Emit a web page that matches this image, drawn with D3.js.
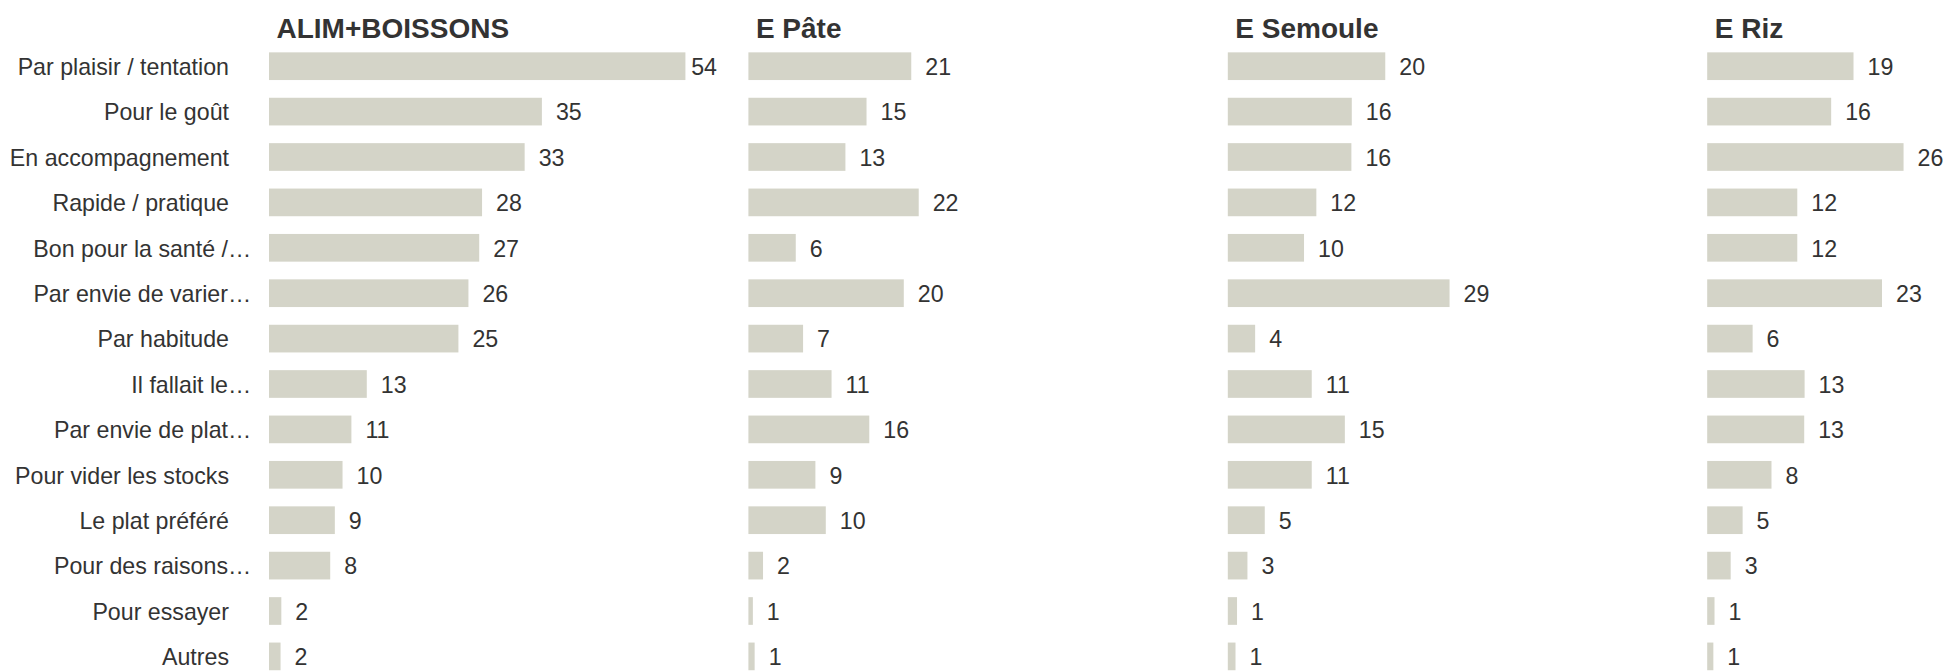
<!DOCTYPE html>
<html>
<head>
<meta charset="utf-8">
<script src="https://cdn.jsdelivr.net/npm/d3@7"></script>
<style>
  html, body { margin: 0; padding: 0; background: #ffffff; }
  svg { display: block; }
  text { font-family: "Liberation Sans", Arial, sans-serif; fill: #333333; }
</style>
</head>
<body>
<svg id="chart" width="1948" height="672"></svg>
<script>
const categories = [
  "Par plaisir / tentation",
  "Pour le goût",
  "En accompagnement",
  "Rapide / pratique",
  "Bon pour la santé /…",
  "Par envie de varier…",
  "Par habitude",
  "Il fallait le…",
  "Par envie de plat…",
  "Pour vider les stocks",
  "Le plat préféré",
  "Pour des raisons…",
  "Pour essayer",
  "Autres"
];
const groups = ["ALIM+BOISSONS", "E Pâte", "E Semoule", "E Riz"];
// values; labels show them rounded
const alimBoissons = [54.08, 35.44, 33.2, 27.67, 27.3, 25.9, 24.6, 12.7, 10.7, 9.55, 8.55, 7.95, 1.6, 1.5];
const ePate        = [21.15, 15.34, 12.6, 22.12, 6.15, 20.18, 7.1, 10.8, 15.7, 8.7, 10.05, 1.9, 0.58, 0.81];
const eSemoule     = [20.45, 16.1, 16.05, 11.5, 9.9, 28.8, 3.55, 10.9, 15.2, 10.9, 4.8, 2.55, 1.2, 1.0];
const eRiz         = [19.0, 16.1, 25.5, 11.7, 11.7, 22.7, 5.9, 12.65, 12.6, 8.35, 4.6, 3.05, 0.95, 0.8];
const seriesValues = [alimBoissons, ePate, eSemoule, eRiz];

const svg = d3.select("#chart");

const panel = d3.scaleBand()
  .domain(groups)
  .range([269, 269 + 4 * 479.4])
  .paddingInner(0).paddingOuter(0);

const y = d3.scaleBand()
  .domain(categories)
  .range([43.5, 43.5 + 14 * 45.4])
  .paddingInner(0.39)
  .paddingOuter(0.195);

const x = d3.scaleLinear().domain([0, 60]).range([0, 462]);

const labelRight = 229;
const fontSize = 23.2;

const catG = svg.append("g");
const tmp = catG.append("text").style("font-size", fontSize + "px").text("…");
const ellW = tmp.node().getComputedTextLength();
tmp.remove();

catG.selectAll("text.cat")
  .data(categories)
  .join("text")
  .attr("class", "cat")
  .attr("x", d => labelRight + (d.endsWith("…") ? ellW - 1 : 0))
  .attr("y", d => y(d) + y.bandwidth() / 2)
  .attr("dy", "0.38em")
  .attr("text-anchor", "end")
  .style("font-size", fontSize + "px")
  .text(d => d);

const panelInner = 448;
const fmt = d3.format(".0f");

groups.forEach((g, gi) => {
  const vals = seriesValues[gi];
  const rows = categories.map((c, i) => ({ c, v: vals[i] }));
  const pg = svg.append("g").attr("transform", `translate(${panel(g)},0)`);

  pg.append("text")
    .attr("x", 7.5)
    .attr("y", 37.5)
    .style("font-size", "28px")
    .style("font-weight", "bold")
    .text(g);

  pg.selectAll("rect")
    .data(rows)
    .join("rect")
    .attr("x", x(0))
    .attr("y", d => y(d.c))
    .attr("width", d => x(d.v) - x(0))
    .attr("height", y.bandwidth())
    .attr("fill", "#d4d4c8");

  pg.selectAll("text.val")
    .data(rows)
    .join("text")
    .attr("class", "val")
    .attr("y", d => y(d.c) + y.bandwidth() / 2)
    .attr("dy", "0.38em")
    .style("font-size", fontSize + "px")
    .text(d => fmt(d.v))
    .attr("x", function(d) {
      const w = this.getComputedTextLength();
      return Math.min(x(d.v) + 14, panelInner - w);
    });
});
</script>
</body>
</html>
